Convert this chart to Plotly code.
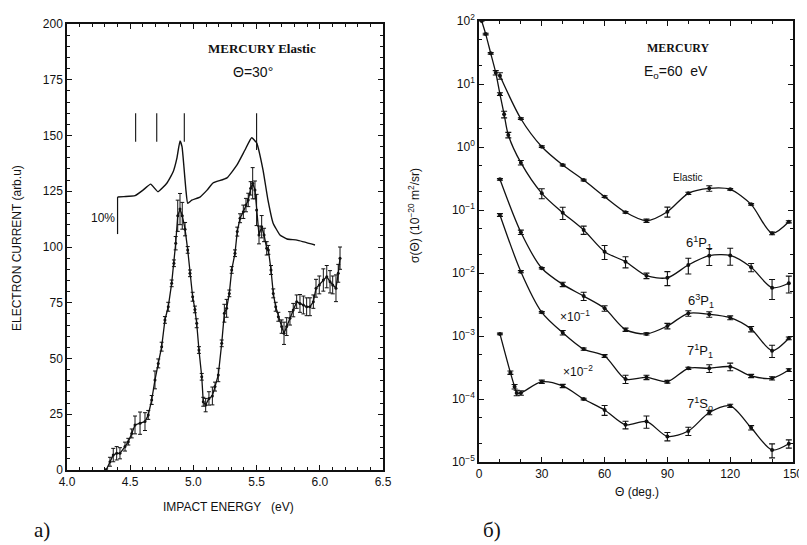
import plotly.graph_objects as go

# ---------------- Panel a) : Mercury elastic, theta = 30 deg ----------------
# Transmission (upper, continuous) curve
tr_E = [4.400, 4.45, 4.538, 4.601, 4.662, 4.720, 4.791, 4.839, 4.870, 4.894, 4.910, 4.925,
        4.940, 4.955, 4.987, 5.052, 5.108, 5.155, 5.266, 5.345, 5.408, 5.461, 5.501, 5.551,
        5.590, 5.630, 5.685, 5.741, 5.820, 5.962]
tr_V = [122.4, 122.6, 123.0, 125.5, 128.2, 124.8, 128.7, 133.6, 140.0, 147.5, 145.0, 136.0,
        126.0, 119.6, 121.0, 122.4, 125.5, 128.7, 131.0, 136.8, 143.5, 149.0, 146.6, 134.5,
        121.0, 110.8, 105.4, 103.6, 103.1, 100.9]
# 10% scale bar
bar_E = [4.400, 4.400]
bar_V = [105.8, 122.4]
# resonance position markers
res_E = [4.543, 4.710, 4.928, 5.500]
res_top = [160.0, 160.0, 160.0, 160.0]
res_bot = [147.2, 147.2, 147.2, 143.5]

# Measured points with error bars
el_E = [4.31, 4.34, 4.366, 4.393, 4.419, 4.459, 4.485, 4.512, 4.538, 4.578, 4.617, 4.643,
        4.670, 4.696, 4.722, 4.749, 4.775, 4.801, 4.828, 4.846, 4.860, 4.876, 4.894, 4.912,
        4.934, 4.955, 4.973, 4.994, 5.012, 5.026, 5.044, 5.066, 5.078, 5.097, 5.123, 5.150,
        5.171, 5.197, 5.224, 5.245, 5.263, 5.284, 5.303, 5.329, 5.347, 5.369, 5.395, 5.416,
        5.434, 5.453, 5.469, 5.487, 5.500, 5.519, 5.540, 5.559, 5.580, 5.593, 5.614, 5.632,
        5.651, 5.672, 5.698, 5.717, 5.738, 5.764, 5.790, 5.817, 5.843, 5.870, 5.896, 5.922,
        5.949, 5.970, 5.996, 6.028, 6.055, 6.081, 6.102, 6.128, 6.146, 6.160]
el_V = [0.0, 3.7, 6.7, 7.5, 7.5, 10.5, 12.7, 16.4, 20.2, 21.0, 21.7, 24.7,
        31.4, 40.4, 47.8, 55.3, 67.3, 73.2, 83.7, 92.7, 101.7, 114.0, 117.0, 114.0,
        108.0, 98.7, 88.2, 77.7, 72.0, 65.8, 53.8, 41.8, 30.6, 29.1, 32.1, 33.2,
        37.4, 42.6, 56.8, 70.3, 72.5, 79.2, 89.7, 97.2, 106.9, 112.9, 115.8, 118.8,
        121.1, 126.3, 128.6, 125.6, 116.6, 105.4, 109.1, 105.4, 99.4, 98.7, 89.7, 79.2,
        73.2, 68.7, 64.3, 61.3, 64.3, 68.0, 71.7, 75.5, 74.7, 74.0, 73.2, 73.2,
        75.5, 81.5, 83.0, 85.2, 86.7, 84.4, 83.0, 81.5, 88.2, 95.0]
el_err = [0.5, 2, 3, 3, 2.5, 2, 1.5, 2, 4, 5, 4, 2,
          2, 4, 2, 2, 1.5, 2, 1.5, 1.5, 3, 7, 7, 6,
          3, 1.5, 1.5, 2, 1.5, 2, 1.5, 1.5, 2, 3, 3, 4,
          2, 3, 1.5, 4, 4, 1.5, 1.5, 1.5, 2, 2, 3, 3,
          3, 3, 7, 4, 7, 4, 5, 3, 3, 2, 2, 2,
          2, 2, 3, 5, 4, 3, 3, 3, 4, 4, 4, 4,
          3, 4, 4, 5, 5, 5, 4, 6, 4, 5]

# ---------------- Panel б) : Mercury, E0 = 60 eV, DCS ----------------
th_elastic = [10, 20, 30, 40, 50, 60, 70, 80, 90, 100, 110, 120, 130, 140, 148]
cs_elastic = [13.5, 2.81, 1.01, 0.518, 0.299, 0.163, 0.092, 0.0676, 0.094, 0.184,
              0.221, 0.213, 0.123, 0.0427, 0.065]
re_elastic = [12, 3, 3, 3, 3, 3, 3, 6, 18, 4, 10, 3, 3, 5, 4]

th_61p1 = [1.3, 3.2, 5.6, 8, 10, 12, 14, 20, 30, 40, 50, 60, 70, 80, 90, 100, 110, 120,
           130, 140, 148]
cs_61p1 = [100, 62, 30.7, 15.1, 6.9, 3.3, 1.55, 0.564, 0.184, 0.0906, 0.0482, 0.0218,
           0.0151, 0.00906, 0.0084, 0.0134, 0.0188, 0.019, 0.0123, 0.00585, 0.00687]
re_61p1 = [0, 3, 3, 8, 5, 12, 10, 8, 18, 22, 15, 25, 20, 10, 25, 28, 30, 30, 15, 35, 30]

th_63p1 = [10, 20, 30, 40, 50, 60, 70, 80, 90, 100, 110, 120, 130, 140, 148]
cs_63p1 = [0.307, 0.0443, 0.0119, 0.0066, 0.0043, 0.00275, 0.00126, 0.00108, 0.00144,
           0.00229, 0.00221, 0.00195, 0.00129, 0.000585, 0.00092]
re_63p1 = [3, 8, 3, 8, 15, 10, 6, 4, 10, 10, 10, 7, 10, 22, 5]

th_71p1 = [10, 20, 30, 40, 50, 60, 70, 80, 90, 100, 110, 120, 130, 140, 148]
cs_71p1 = [0.0834, 0.0105, 0.00238, 0.00113, 0.00062, 0.000482, 0.000207, 0.000221,
           0.000188, 0.000307, 0.000307, 0.000326, 0.000232, 0.000213, 0.000288]
re_71p1 = [5, 4, 3, 8, 4, 5, 15, 8, 5, 4, 14, 14, 6, 6, 5]

th_71s0 = [10, 15, 17, 18, 20, 30, 40, 50, 60, 70, 80, 90, 100, 110, 120, 130, 140, 148]
cs_71s0 = [0.00108, 0.000262, 0.000157, 0.000125, 0.000125, 0.000188, 0.000161, 0.0001,
           6.7e-5, 3.9e-5, 4.4e-5, 2.55e-5, 3.1e-5, 6.1e-5, 7.8e-5, 3.5e-5, 1.55e-5, 1.95e-5]
re_71s0 = [3, 6, 8, 10, 8, 6, 6, 3, 18, 14, 22, 15, 15, 8, 6, 8, 25, 15]

left_yticks = [0, 25, 50, 75, 100, 125, 150, 175, 200]
left_xticks = [4.0, 4.5, 5.0, 5.5, 6.0, 6.5]
right_xticks = [0, 30, 60, 90, 120, 150]
right_yexp = [-5, -4, -3, -2, -1, 0, 1, 2]

BLACK = "#111111"
SANS = "Liberation Sans, Arial, sans-serif"
SERIF = "Liberation Serif, Times New Roman, serif"

W, H = 807, 545
OFF = 8  # page body margin in the browser


def px(xp):
    return (xp - OFF) / W


def py(yp):
    return 1 - (yp - OFF) / H


fig = go.Figure()

# ---- left panel traces
fig.add_trace(go.Scatter(x=tr_E, y=tr_V, mode="lines", line=dict(color=BLACK, width=1.4, shape="spline", smoothing=0.4),
                         xaxis="x", yaxis="y", showlegend=False, hoverinfo="skip"))
fig.add_trace(go.Scatter(x=bar_E, y=bar_V, mode="lines", line=dict(color=BLACK, width=1.2),
                         xaxis="x", yaxis="y", showlegend=False, hoverinfo="skip"))
rx, ry = [], []
for e, t, b in zip(res_E, res_top, res_bot):
    rx += [e, e, None]
    ry += [t, b, None]
fig.add_trace(go.Scatter(x=rx, y=ry, mode="lines", line=dict(color=BLACK, width=1.1),
                         xaxis="x", yaxis="y", showlegend=False, hoverinfo="skip"))
fig.add_trace(go.Scatter(x=el_E, y=el_V, mode="lines+markers",
                         line=dict(color=BLACK, width=1.3),
                         marker=dict(color=BLACK, size=3),
                         error_y=dict(type="data", array=el_err, color=BLACK, thickness=1, width=2),
                         xaxis="x", yaxis="y", showlegend=False))

# ---- right panel traces
for th, cs, rel in [(th_elastic, cs_elastic, re_elastic), (th_61p1, cs_61p1, re_61p1),
                    (th_63p1, cs_63p1, re_63p1), (th_71p1, cs_71p1, re_71p1),
                    (th_71s0, cs_71s0, re_71s0)]:
    err = [c * r / 100.0 for c, r in zip(cs, rel)]
    fig.add_trace(go.Scatter(x=th, y=cs, mode="lines+markers",
                             line=dict(color=BLACK, width=1.3, shape="spline", smoothing=0.8),
                             marker=dict(color=BLACK, size=4),
                             error_y=dict(type="data", array=err, color=BLACK, thickness=1.1, width=3),
                             xaxis="x2", yaxis="y2", showlegend=False))

axis_common = dict(showline=True, linecolor=BLACK, linewidth=1.5, mirror="ticks",
                   ticks="inside", ticklen=5, tickwidth=1, tickcolor=BLACK,
                   showgrid=False, zeroline=False, automargin=False,
                   tickfont=dict(family=SANS, size=12, color=BLACK))

fig.update_layout(
    width=W, height=H,
    margin=dict(l=0, r=0, t=0, b=0, pad=0, autoexpand=False),
    paper_bgcolor="white", plot_bgcolor="white",
    xaxis=dict(domain=[px(67), px(383)], range=[4.0, 6.5], anchor="y",
               tickvals=left_xticks, tickformat=".1f",
               minor=dict(ticks="inside", ticklen=3, dtick=0.1, tickcolor=BLACK),
               **axis_common),
    yaxis=dict(domain=[py(470), py(24)], range=[0, 200], anchor="x",
               tickvals=left_yticks,
               minor=dict(ticks="inside", ticklen=3, dtick=5, tickcolor=BLACK),
               **axis_common),
    xaxis2=dict(domain=[px(479), px(793)], range=[0, 150], anchor="y2",
                tickvals=right_xticks,
                minor=dict(ticks="inside", ticklen=3, dtick=10, tickcolor=BLACK),
                **axis_common),
    yaxis2=dict(domain=[py(462), py(21)], type="log", range=[-5, 2], anchor="x2",
                tickvals=[10.0 ** k for k in right_yexp],
                ticktext=["10<sup>%d</sup>" % k if k >= 0 else "10<sup>\u2212%d</sup>" % (-k) for k in right_yexp],
                minor=dict(ticks="inside", ticklen=3, tickcolor=BLACK),
                **axis_common),
)

ann = []


def A(text, x, y, xref="paper", yref="paper", size=12, family=SANS, angle=0, xanchor="center", yanchor="middle"):
    ann.append(dict(text=text, x=x, y=y, xref=xref, yref=yref, showarrow=False,
                    font=dict(family=family, size=size, color=BLACK), textangle=angle,
                    xanchor=xanchor, yanchor=yanchor))


# left panel texts
A("<b>MERCURY Elastic</b>", 5.54, 189, "x", "y", size=13, family=SERIF)
A("\u0398=30\u00b0", 5.47, 178.5, "x", "y", size=14)
A("10%", 4.285, 113, "x", "y", size=12)
A("IMPACT ENERGY   (eV)", px(228), py(507), size=12)
A("ELECTRON CURRENT (arb.u)", px(17), py(248), size=12, angle=-90)
A("a)", px(42), py(530), size=21, family=SERIF)

# right panel texts
A("<b>MERCURY</b>", 95.5, 1.571, "x2", "y2", size=12, family=SERIF)
A("E<sub>o</sub>=60  eV", 78.0, 1.19, "x2", "y2", size=14, xanchor="left")
A("Elastic", 99.8, -0.49, "x2", "y2", size=10)
A("6<sup>1</sup>P<sub>1</sub>", 105, -1.52, "x2", "y2", size=13)
A("6<sup>3</sup>P<sub>1</sub>", 106, -2.44, "x2", "y2", size=13)
A("7<sup>1</sup>P<sub>1</sub>", 105.6, -3.24, "x2", "y2", size=13)
A("7<sup>1</sup>S<sub>o</sub>", 105.6, -4.08, "x2", "y2", size=13)
A("\u00d710<sup>\u22121</sup>", 45.9, -2.68, "x2", "y2", size=12)
A("\u00d710<sup>\u22122</sup>", 47.3, -3.56, "x2", "y2", size=12)
A("\u0398 (deg.)", px(637), py(492), size=12)
A("\u03c3(\u0398) (10<sup>\u221220</sup> m<sup>2</sup>/sr)", px(414), py(216), size=12, angle=-90)
A("\u0431)", px(492), py(530), size=21, family=SERIF)

fig.update_layout(annotations=ann)
fig.write_html("out.html")
